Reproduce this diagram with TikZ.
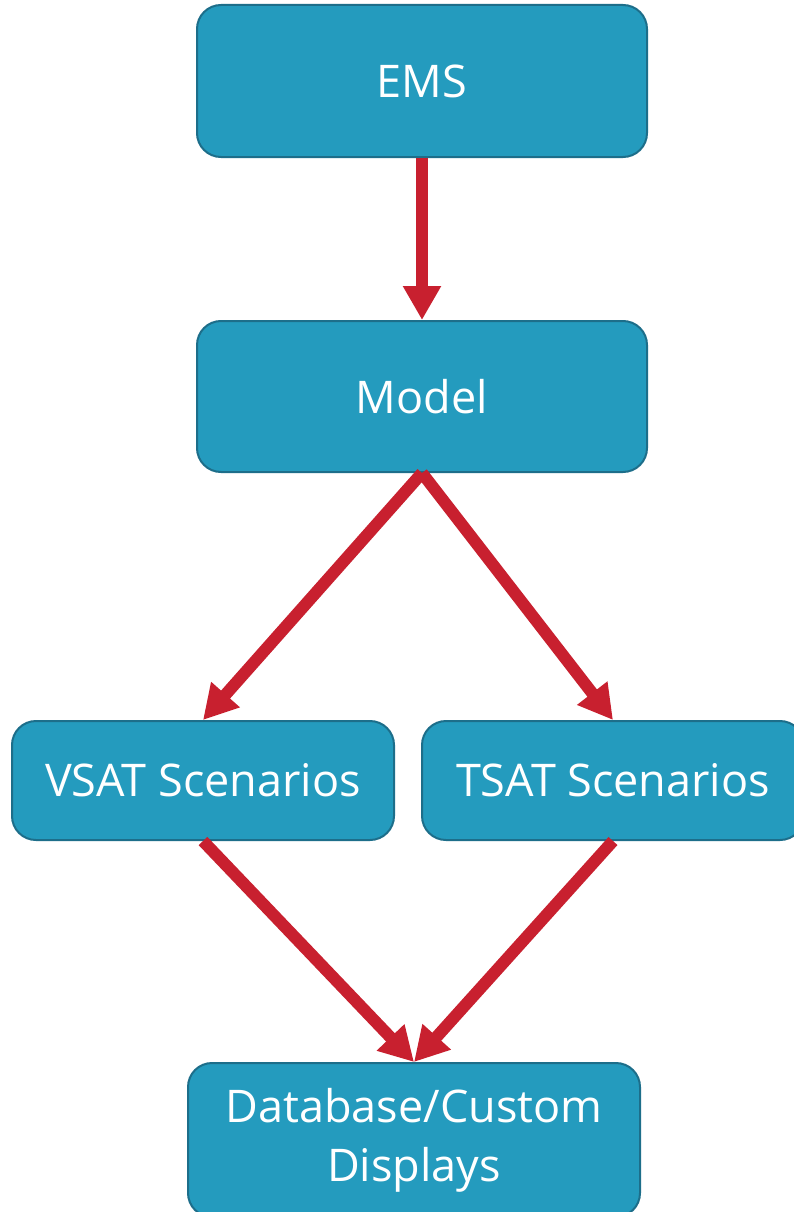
\documentclass[tikz,border=0pt]{standalone}
\usepackage{fontspec}
\setmainfont{Open Sans}
\usetikzlibrary{arrows.meta}
\definecolor{boxfill}{HTML}{249BBE}
\definecolor{boxline}{HTML}{1D6E8A}
\definecolor{arrowred}{HTML}{C8202F}
\begin{document}
\begin{tikzpicture}[x=1pt,y=-1pt,
  flowbox/.style={draw=boxline, line width=2pt, fill=boxfill, rounded corners=24pt,
    text=white, font=\fontsize{45}{59}\selectfont, align=center, inner sep=0pt},
  flowarrow/.style={draw=arrowred, line width=12pt,
    -{Triangle[width=36pt,length=34pt]}}]
\useasboundingbox (0,0) rectangle (793,1212);
\fill[white] (0,0) rectangle (793,1212);
\node[flowbox, minimum width=450pt, minimum height=152pt] (ems) at (422,81) {EMS};
\node[flowbox, minimum width=450pt, minimum height=151pt] (model) at (422,396.5) {Model};
\node[flowbox, minimum width=382pt, minimum height=119pt] (vsat) at (203,780.5) {VSAT Scenarios};
\node[flowbox, minimum width=382pt, minimum height=119pt] (tsat) at (613,780.5) {TSAT Scenarios};
\node[flowbox, minimum width=452pt, minimum height=154pt] (db) at (414,1140) {Database/Custom\\Displays};
\draw[flowarrow] (ems.south) -- (model.north);
\draw[flowarrow] (model.south) -- (vsat.north);
\draw[flowarrow] (model.south) -- (tsat.north);
\draw[flowarrow] (vsat.south) -- (db.north);
\draw[flowarrow] (tsat.south) -- (db.north);
\end{tikzpicture}
\end{document}
